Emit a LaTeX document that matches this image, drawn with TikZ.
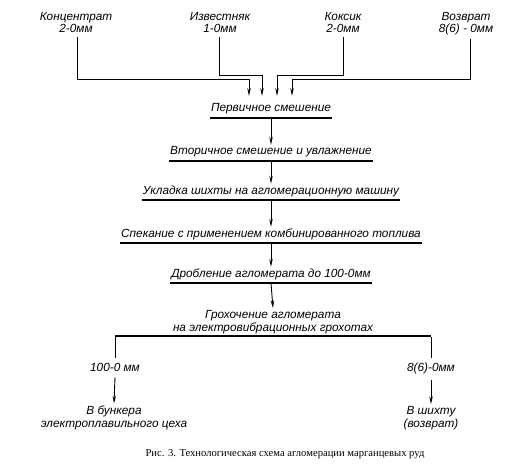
\documentclass[tikz,border=0pt]{standalone}
\usepackage{fontspec}
\setmainfont{Liberation Serif}
\newfontfamily\lblfont{Liberation Sans}
\usetikzlibrary{arrows.meta}
\tikzset{
  lbl/.style={font=\lblfont\itshape\fontsize{11.8}{12.5}\selectfont, inner sep=0pt, align=center},
  stage/.style={lbl, anchor=base, text height=9pt, text depth=6pt, inner xsep=1pt,
    append after command={(\tikzlastnode.south west) edge[uline] (\tikzlastnode.south east)}},
  uline/.style={line width=1.6pt},
  conn/.style={line width=0.9pt},
  arr/.style={conn, -{Stealth[length=8pt,width=3.5pt]}},
}
\begin{document}
\begin{tikzpicture}[x=1pt,y=-1pt]
\useasboundingbox (0,0) rectangle (517,476);
% top sources
\node[lbl, anchor=north] (konc) at (76,12) {Концентрат\\2-0мм};
\node[lbl, anchor=north] (izv) at (220,12) {Известняк\\1-0мм};
\node[lbl, anchor=north] (koks) at (343,12) {Коксик\\2-0мм};
\node[lbl, anchor=north] (vozv) at (466,12) {Возврат\\8(6) - 0мм};
% stages
\node[stage] (s1) at (271,112) {Первичное смешение};
\node[stage] (s2) at (271,155) {Вторичное смешение и увлажнение};
\node[stage] (s3) at (271,194) {Укладка шихты на агломерационную машину};
\node[stage] (s4) at (271,237) {Спекание с применением комбинированного топлива};
\node[stage] (s5) at (271,277) {Дробление агломерата до 100-0мм};
\node[lbl, anchor=base, text depth=5pt] (gr) at (273,331) {Грохочение агломерата\\на электровибрационных грохотах};
% outputs
\node[lbl, anchor=base, text height=9pt] (o1) at (115,371) {100-0 мм};
\node[lbl, anchor=base, text height=9pt] (o2) at (431,371) {8(6)-0мм};
\node[lbl, anchor=base] (d1) at (114,427) {В бункера\\электроплавильного цеха};
\node[lbl, anchor=base] (d2) at (431,427) {В шихту\\(возврат)};
% caption
\node[anchor=base, inner sep=0pt, font=\fontsize{10.6}{12}\selectfont] (cap) at (285,456) {Рис. 3. Технологическая схема агломерации марганцевых руд};
% source connectors
\coordinate (a1) at (249,96);
\coordinate (a2) at (262,96);
\coordinate (a3) at (277,96);
\coordinate (a4) at (292,96);
\draw[arr] ([xshift=1pt,yshift=-4pt]konc.south) |- (249,79) -- (a1);
\draw[arr] ([xshift=-1pt,yshift=-4pt]izv.south) |- (262,75) -- (a2);
\draw[arr] ([yshift=-4pt]koks.south) |- (277,75) -- (a3);
\draw[arr] ([xshift=4pt,yshift=-4pt]vozv.south) |- (292,79) -- (a4);
% stage connectors
\draw[arr] (s1.south) -- ([yshift=1pt]s2.north);
\draw[arr] (s2.south) -- ([yshift=1pt]s3.north);
\draw[arr] (s3.south) -- ([yshift=1pt]s4.north);
\draw[arr] (s4.south) -- ([yshift=1pt]s5.north);
\draw[arr] (s5.south) -- ([yshift=2pt]gr.north);
% split bar
\coordinate (barL) at (o1.north |- gr.south);
\coordinate (barR) at (o2.north |- gr.south);
\draw[uline] (barL) -- (barR);
\draw[conn] ([yshift=-0.7pt]barL) -- ([yshift=4pt]o1.north);
\draw[conn] ([yshift=-0.7pt]barR) -- ([yshift=4pt]o2.north);
\draw[arr] ([yshift=-6pt]o1.south) -- ([yshift=2pt]d1.north);
\draw[arr] ([yshift=-6pt]o2.south) -- ([yshift=2pt]d2.north);
\end{tikzpicture}
\end{document}
